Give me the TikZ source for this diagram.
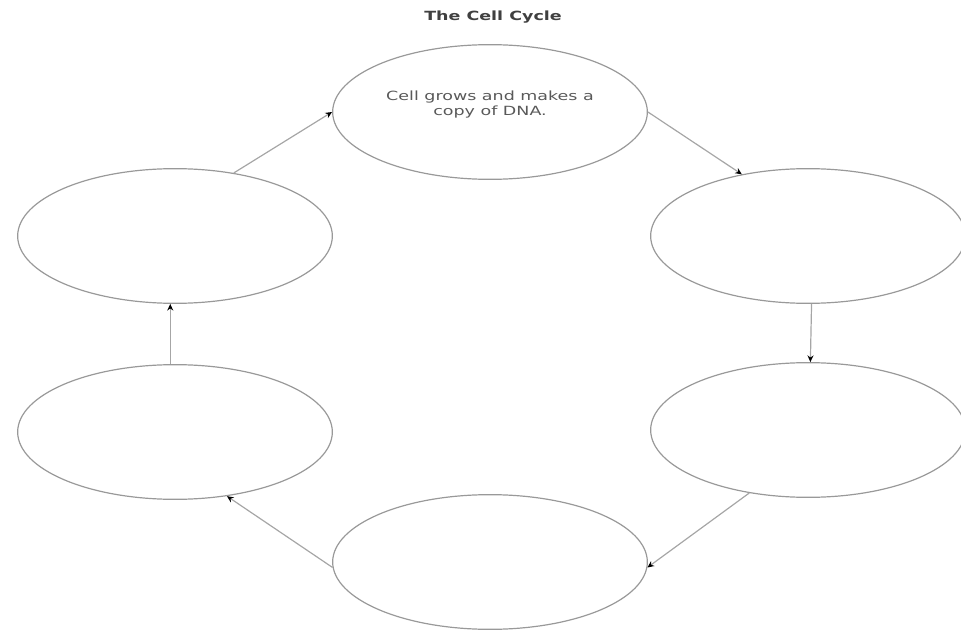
\documentclass[tikz,border=0pt]{standalone}
\usepackage{fontspec}
\setmainfont{DejaVu Sans}
\newfontfamily\widefont[FakeStretch=1.38]{DejaVu Sans}
\usetikzlibrary{shapes.geometric,arrows.meta}
\begin{document}
\begin{tikzpicture}[x=0.75pt,y=-0.75pt,
  cell/.style={draw=black!40, line width=0.9pt, ellipse, minimum width=236pt, minimum height=101pt, inner sep=0pt, align=center, font=\widefont\fontsize{9.5}{11.2}\selectfont, text=black!65},
  flow/.style={draw=black!35, line width=0.9pt, -{Stealth[length=5pt,width=4.5pt,black]}}]
\useasboundingbox (0,0) rectangle (961,635);
\clip (0,0) rectangle (961,635);
\node[font=\widefont\bfseries\fontsize{9.5}{11}\selectfont, text=black!75] (title) at (493,17) {The Cell Cycle};
\node[cell, text depth=13pt] (top) at (490,112) {Cell grows and makes a\\copy of DNA.};
\node[cell] (ur) at (808,236) {};
\node[cell] (lr) at (808,430) {};
\node[cell] (bot) at (490,562) {};
\node[cell] (ll) at (175,432) {};
\node[cell] (ul) at (175,236) {};
\draw[flow] (top.0) -- (ur.137);
\draw[flow] (ur.-87) -- (lr.88);
\draw[flow] (lr.-133) -- (bot.-2);
\draw[flow] (bot.-178) -- (ll.-51);
\draw[flow] (ll.94) -- (ul.-94);
\draw[flow] (ul.47) -- (top.180);
\end{tikzpicture}
\end{document}
